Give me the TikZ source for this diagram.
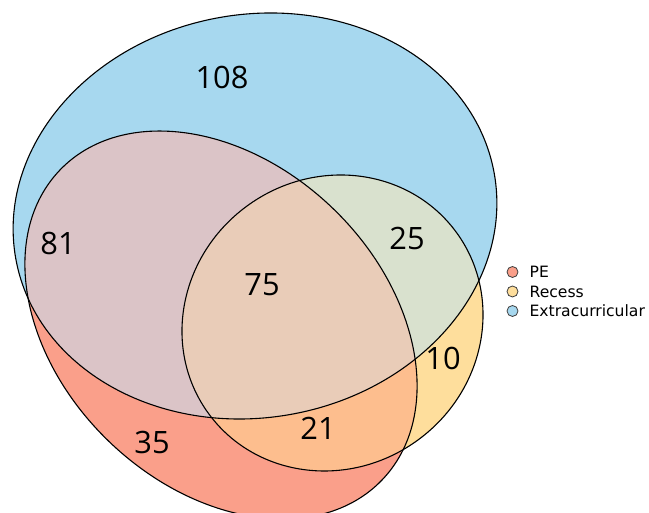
\documentclass[tikz,border=0pt]{standalone}
\usepackage{fontspec}
\setmainfont{DejaVu Sans}
\newfontfamily\numfont{Open Sans}
\usepackage{tikz}
\usetikzlibrary{positioning}

\definecolor{extrac}{HTML}{A7D8EF}
\definecolor{pec}{HTML}{FA9F8A}
\definecolor{recc}{HTML}{FEDE9C}
\definecolor{pexc}{HTML}{DBC4C7}
\definecolor{recxc}{HTML}{D9E1CE}
\definecolor{perc}{HTML}{FDBE8E}
\definecolor{allc}{HTML}{E9CCB8}

\begin{document}
\begin{tikzpicture}[x=1pt, y=1pt]

\tikzstyle{count}=[inner sep=0pt, font=\numfont\fontsize{30.8}{36}\selectfont]
\tikzstyle{legc}=[circle, draw=black!75, line width=0.8pt, minimum size=11pt, inner sep=0pt]
\tikzstyle{legt}=[anchor=west, inner sep=0pt, font=\fontsize{15.6}{18}\selectfont]
\tikzstyle{rim}=[draw=black, line width=1.1pt]

\tikzstyle{extraset}=[shift={(255,297)}, rotate=10]
\tikzstyle{peset}=[shift={(221,188)}, rotate=-44]
\tikzstyle{recset}=[shift={(332.5,190)}, rotate=36.5]

\useasboundingbox (0,0) rectangle (649,513);
\clip (0,0) rectangle (649,513);

% sets
\fill [extrac, extraset] (0,0) ellipse (243 and 201.6);
\fill [pec, peset] (0,0) ellipse (223.5 and 161.6);
\fill [recc, recset] (0,0) ellipse (153.5 and 144.9);

% overlaps
\begin{scope}
\clip [peset] (0,0) ellipse (223.5 and 161.6);
\fill [pexc, extraset] (0,0) ellipse (243 and 201.6);
\fill [perc, recset] (0,0) ellipse (153.5 and 144.9);
\end{scope}

\begin{scope}
\clip [recset] (0,0) ellipse (153.5 and 144.9);
\fill [recxc, extraset] (0,0) ellipse (243 and 201.6);
\clip [peset] (0,0) ellipse (223.5 and 161.6);
\fill [allc, extraset] (0,0) ellipse (243 and 201.6);
\end{scope}

\draw [rim, extraset] (0,0) ellipse (243 and 201.6);
\draw [rim, peset] (0,0) ellipse (223.5 and 161.6);
\draw [rim, recset] (0,0) ellipse (153.5 and 144.9);

\node (n108) at (222,436) [count] {108};
\node (n81) at (58,269) [count] {81};
\node (n75) at (262,228) [count] {75};
\node (n25) at (407,274) [count] {25};
\node (n10) at (443,155) [count] {10};
\node (n21) at (318,85) [count] {21};
\node (n35) at (152,70) [count] {35};

% legend
\node (lpe) at (512.5,241) [legc, fill=pec] {};
\node (lrec) at (512.5,221.5) [legc, fill=recc] {};
\node (lextra) at (512.5,202) [legc, fill=extrac] {};

\node (tpe) [legt, right=11pt of lpe] {PE};
\node (trec) [legt, right=11pt of lrec] {Recess};
\node (textra) [legt, right=11pt of lextra] {Extracurricular};

\end{tikzpicture}
\end{document}
